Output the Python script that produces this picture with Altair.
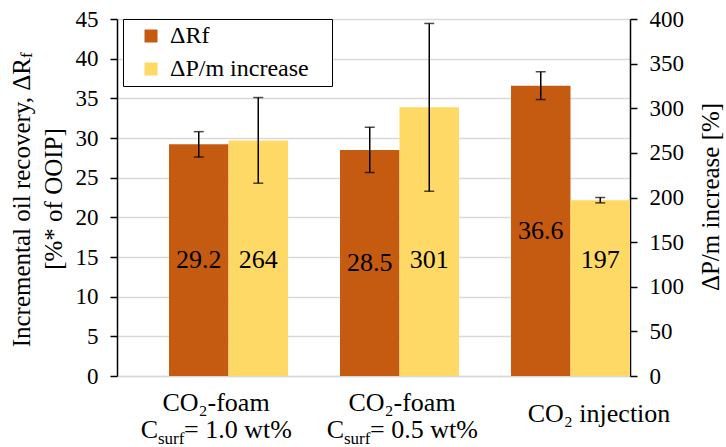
import altair as alt
import pandas as pd

# Test cases and series
categories = ["CO2-foam 1.0 wt%", "CO2-foam 0.5 wt%", "CO2 injection"]
series_names = ["ΔRf", "ΔP/m increase"]

# Incremental oil recovery [% of OOIP] and its spread
recovery = [29.2, 28.5, 36.6]
recovery_err = [1.6, 2.85, 1.75]

# Pressure-gradient increase [%] and its spread
pressure = [264, 301, 197]
pressure_err = [48, 94, 3]

left_ticks = list(range(0, 46, 5))
right_ticks = list(range(0, 401, 50))

FONT = "'Times New Roman', 'Liberation Serif', serif"
DARK = "#C55A11"
YELLOW = "#FFD966"
GRID = "#d9d9d9"


def frame(values, errs, name):
    d = pd.DataFrame({"category": categories, "value": values, "err": errs})
    d["series"] = name
    d["lo"] = d["value"] - d["err"]
    d["hi"] = d["value"] + d["err"]
    return d


df_rf = frame(recovery, recovery_err, series_names[0])
df_dp = frame(pressure, pressure_err, series_names[1])

x_enc = alt.X(
    "category:N", sort=categories,
    scale=alt.Scale(paddingInner=0, paddingOuter=0),
    axis=alt.Axis(labels=False, ticks=False, title=None, grid=False,
                  domainColor=GRID, domainWidth=1.3),
)
off_enc = alt.XOffset(
    "series:N", sort=series_names,
    scale=alt.Scale(domain=series_names, paddingInner=0, paddingOuter=0.437, align=1),
)
# Legend box: a transparent spacer title on the right widens the frame
color_enc = alt.Color(
    "series:N",
    scale=alt.Scale(domain=series_names, range=[DARK, YELLOW]),
    legend=alt.Legend(
        orient="none", legendX=6, legendY=0,
        title="xxx", titleOrient="right", titleColor="transparent",
        titleFontSize=12, titleFont=FONT, titlePadding=0,
        fillColor="white", strokeColor="black", padding=5,
        symbolType="square", symbolSize=169, symbolStrokeWidth=0, symbolOffset=11,
        labelFont=FONT, labelFontSize=24, labelColor="black", labelOffset=7,
        labelLimit=400, rowPadding=9,
    ),
)

axis_style = dict(
    title=None, labelFont=FONT, labelFontSize=23, labelColor="black",
    domainColor="black", domainWidth=1.5, tickColor="black", tickWidth=1.5,
    tickSize=7, labelPadding=12,
)

left_axis = alt.Axis(orient="left", values=left_ticks, grid=True, gridColor=GRID,
                     gridWidth=1.3, **axis_style)
right_axis = alt.Axis(orient="right", values=right_ticks, grid=False, **axis_style)


def series_group(df, scale, axis, label_y, fmt):
    base = alt.Chart(df)
    bars = base.mark_bar().encode(
        x=x_enc, xOffset=off_enc, color=color_enc,
        y=alt.Y("value:Q", scale=scale, axis=axis),
    )
    whisker = base.mark_rule(color="black", strokeWidth=1.5).encode(
        x=x_enc, xOffset=off_enc, y=alt.Y("lo:Q", scale=scale, axis=axis), y2="hi:Q")
    cap_lo = base.mark_tick(color="black", size=10, thickness=1.5).encode(
        x=x_enc, xOffset=off_enc, y=alt.Y("lo:Q", scale=scale, axis=axis))
    cap_hi = base.mark_tick(color="black", size=10, thickness=1.5).encode(
        x=x_enc, xOffset=off_enc, y=alt.Y("hi:Q", scale=scale, axis=axis))
    labels = base.transform_calculate(ly=label_y).mark_text(
        font=FONT, fontSize=26, color="black", baseline="middle").encode(
        x=x_enc, xOffset=off_enc, y=alt.Y("ly:Q", scale=scale, axis=axis),
        text=alt.Text("value:Q", format=fmt))
    return alt.layer(bars, whisker, cap_lo, cap_hi, labels)


# ΔRf on the primary axis, labels at bar middle
left = series_group(df_rf, alt.Scale(domain=[0, 45], nice=False), left_axis,
                    "datum.value / 2", ".1f")
# ΔP/m increase on the secondary axis, labels on a common level
right = series_group(df_dp, alt.Scale(domain=[0, 400], nice=False), right_axis,
                     "130", ".0f")


def text_piece(txt, x, y, size=25, align="center", angle=0, baseline="alphabetic"):
    return alt.Chart(pd.DataFrame({"t": [txt]})).mark_text(
        font=FONT, fontSize=size, color="black", align=align,
        baseline=baseline, angle=angle,
    ).encode(text="t:N", x=alt.value(x), y=alt.value(y))


# Axis titles (rotated, with subscript)
titles = [
    text_piece("Incremental oil recovery, ΔR", -95, 39, align="right", angle=270, baseline="middle"),
    text_piece("f", -90, 39, size=17, align="left", angle=270, baseline="middle"),
    text_piece("[%* of OOIP]", -63, 180, align="center", angle=270, baseline="middle"),
    text_piece("ΔP/m increase [%]", 594, 178, align="center", angle=270, baseline="middle"),
]


# Category labels below the axis
def surf_line(cx, conc):
    xs = cx - 58
    return [
        text_piece("C", xs, 419, size=26, align="right"),
        text_piece("surf", xs, 425, size=17, align="left"),
        text_piece("= " + conc + " wt%", xs + 26, 419, size=26, align="left"),
    ]


cat_labels = [
    text_piece("CO₂-foam", 99, 392, size=26),
    *surf_line(99, "1.0"),
    text_piece("CO₂-foam", 285, 392, size=26),
    *surf_line(285, "0.5"),
    text_piece("CO₂ injection", 482, 403, size=26),
]

chart = alt.layer(left, right, *titles, *cat_labels).resolve_scale(
    y="independent"
).properties(
    width=513, height=357,
    autosize=alt.AutoSizeParams(type="none"),
    padding={"left": 117, "top": 19, "right": 96, "bottom": 71},
).configure_view(stroke=None)

chart.save("out.html", embed_options={"renderer": "svg", "actions": False})
